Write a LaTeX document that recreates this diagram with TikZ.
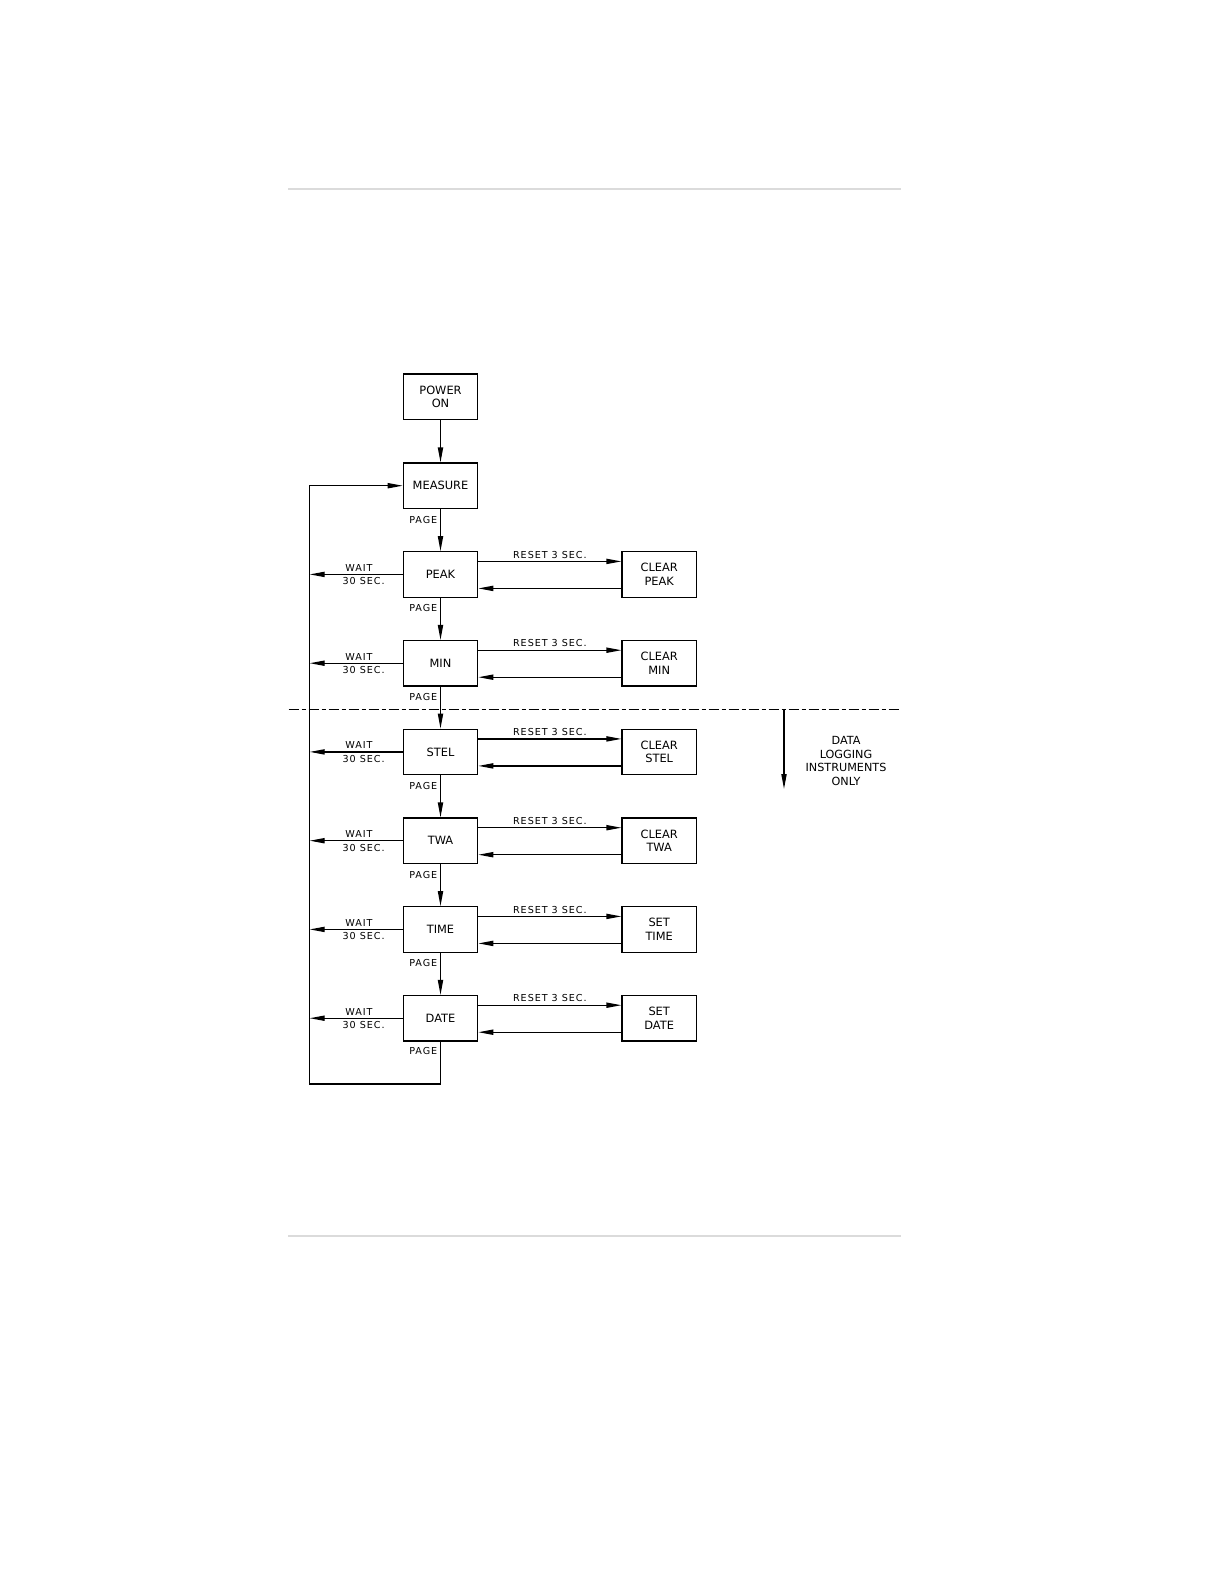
\documentclass[tikz,border=0pt]{standalone}
\usepackage{fontspec}
\setmainfont{DejaVu Sans}
\usetikzlibrary{arrows.meta}
\tikzset{st/.style={draw,line width=0.6bp,minimum width=37.2bp,minimum height=22.7bp,inner sep=0pt,
 align=center,font=\fontsize{5.7bp}{6.7bp}\selectfont},
 arr/.style={-{Triangle[length=7.5bp,width=2.6bp]},line width=0.6bp},
 lbl/.style={font=\fontsize{4.8bp}{5.5bp}\selectfont\addfontfeature{LetterSpace=10},inner sep=1.3bp},
 note/.style={align=center,font=\fontsize{5.6bp}{6.75bp}\selectfont},
 rule/.style={draw=black!14,line width=1bp},
 sepline/.style={line width=0.5bp,dash pattern=on 5bp off 1.5bp on 2bp off 1.5bp}}
\begin{document}
\begin{tikzpicture}[x=0.5bp,y=-0.5bp]
\useasboundingbox (0,0) rectangle (1224,1584);
\draw[rule] (288,189) -- (901,189);
\draw[rule] (288,1236) -- (901,1236);
% main column
\node[st] (pwr) at (440.5,396.7) {POWER\\ON};
\node[st] (meas) at (440.5,485.7) {MEASURE};
\node[st] (peak) at (440.5,574.4) {PEAK};
\node[st] (mini) at (440.5,663.2) {MIN};
\node[st] (stel) at (440.5,751.9) {STEL};
\node[st] (twa) at (440.5,840.7) {TWA};
\node[st] (clock) at (440.5,929.4) {TIME};
\node[st] (date) at (440.5,1018.2) {DATE};
% reset targets
\node[st] (clrpeak) at (659.2,574.4) {CLEAR\\PEAK};
\node[st] (clrmin) at (659.2,663.2) {CLEAR\\MIN};
\node[st] (clrstel) at (659.2,751.9) {CLEAR\\STEL};
\node[st] (clrtwa) at (659.2,840.7) {CLEAR\\TWA};
\node[st] (settime) at (659.2,929.4) {SET\\TIME};
\node[st] (setdate) at (659.2,1018.2) {SET\\DATE};
\coordinate (lt) at (309.7,485.7);
\coordinate (lb) at (309.7,1084);
% page chain
\draw[arr] (pwr)--(meas);
\draw[arr] (meas)--node[lbl,left,pos=0.25]{PAGE}(peak);
\draw[arr] (peak)--node[lbl,left,pos=0.25]{PAGE}(mini);
\draw[arr] (mini)--node[lbl,left,pos=0.25]{PAGE}(stel);
\draw[arr] (stel)--node[lbl,left,pos=0.25]{PAGE}(twa);
\draw[arr] (twa)--node[lbl,left,pos=0.25]{PAGE}(clock);
\draw[arr] (clock)--node[lbl,left,pos=0.25]{PAGE}(date);
\draw[arr] (date.south)--node[lbl,left,pos=0.22]{PAGE}(date.south |- lb)--(lb)--(lt)--(meas.west);
% wait 30 sec
\draw[arr] (peak.west)--node[lbl,above,pos=0.47]{WAIT} node[lbl,below,pos=0.42]{30 SEC.}(peak.west -| lt);
\draw[arr] (mini.west)--node[lbl,above,pos=0.47]{WAIT} node[lbl,below,pos=0.42]{30 SEC.}(mini.west -| lt);
\draw[arr] (stel.west)--node[lbl,above,pos=0.47]{WAIT} node[lbl,below,pos=0.42]{30 SEC.}(stel.west -| lt);
\draw[arr] (twa.west)--node[lbl,above,pos=0.47]{WAIT} node[lbl,below,pos=0.42]{30 SEC.}(twa.west -| lt);
\draw[arr] (clock.west)--node[lbl,above,pos=0.47]{WAIT} node[lbl,below,pos=0.42]{30 SEC.}(clock.west -| lt);
\draw[arr] (date.west)--node[lbl,above,pos=0.47]{WAIT} node[lbl,below,pos=0.42]{30 SEC.}(date.west -| lt);
% reset 3 sec and back
\draw[arr] ([yshift=6.5bp]peak.east)--node[lbl,above]{RESET 3 SEC.}([yshift=6.5bp]clrpeak.west);
\draw[arr] ([yshift=-7bp]clrpeak.west)--([yshift=-7bp]peak.east);
\draw[arr] ([yshift=6.5bp]mini.east)--node[lbl,above]{RESET 3 SEC.}([yshift=6.5bp]clrmin.west);
\draw[arr] ([yshift=-7bp]clrmin.west)--([yshift=-7bp]mini.east);
\draw[arr] ([yshift=6.5bp]stel.east)--node[lbl,above]{RESET 3 SEC.}([yshift=6.5bp]clrstel.west);
\draw[arr] ([yshift=-7bp]clrstel.west)--([yshift=-7bp]stel.east);
\draw[arr] ([yshift=6.5bp]twa.east)--node[lbl,above]{RESET 3 SEC.}([yshift=6.5bp]clrtwa.west);
\draw[arr] ([yshift=-7bp]clrtwa.west)--([yshift=-7bp]twa.east);
\draw[arr] ([yshift=6.5bp]clock.east)--node[lbl,above]{RESET 3 SEC.}([yshift=6.5bp]settime.west);
\draw[arr] ([yshift=-7bp]settime.west)--([yshift=-7bp]clock.east);
\draw[arr] ([yshift=6.5bp]date.east)--node[lbl,above]{RESET 3 SEC.}([yshift=6.5bp]setdate.west);
\draw[arr] ([yshift=-7bp]setdate.west)--([yshift=-7bp]date.east);
% data logging split
\coordinate (sl) at (288.7,709);
\coordinate (sr) at (900,709);
\draw[sepline] (sl)--(sr);
\coordinate (dtop) at (784,709);
\coordinate (dbot) at (784,789);
\draw[arr] (dtop)--(dbot);
\node[note] (dlog) at (846,760.8) {DATA\\LOGGING\\INSTRUMENTS\\ONLY};
\end{tikzpicture}
\end{document}
